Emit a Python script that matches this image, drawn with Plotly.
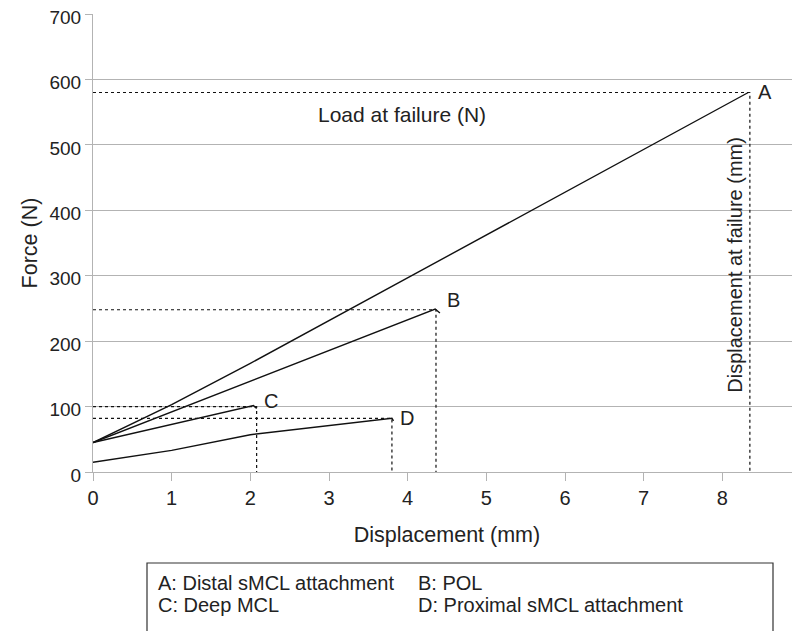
import plotly.graph_objects as go

# ---- data ----
a_x = [0, 1, 2, 8.33]
a_y = [45, 103, 166, 580]
b_x = [0, 2, 4.35, 4.41]
b_y = [45, 139, 249, 243]
c_x = [0, 2.0, 2.04, 2.08]
c_y = [45, 100.5, 101.5, 97]
d_x = [0, 1, 2, 2.7, 3.8, 3.82]
d_y = [15, 33, 57, 67, 82, 78]

fail_labels = ["A", "B", "C", "D"]
fail_x = [8.35, 4.36, 2.08, 3.80]
fail_y = [580, 248, 100, 82]
label_x = [8.43, 4.48, 2.15, 3.88]
label_y = [581, 263, 108, 82]

x_ticks = [0, 1, 2, 3, 4, 5, 6, 7, 8, 9]
y_ticks = [0, 100, 200, 300, 400, 500, 600, 700]

legend_lines = [("A: Distal sMCL attachment", "B: POL"),
                ("C: Deep MCL", "D: Proximal sMCL attachment")]

FONT = "Liberation Sans"
TXT = "#222222"
GRID = "#b3b3b3"

# page body has an 8px default margin; figure coordinates are offset by it
OFF = 8
PL, PT, PR, PB = 93, 14, 801, 472          # plot area in window pixels
L, T = PL - OFF, PT - OFF
R = 800 - (PR - OFF)
B = 631 - (PB - OFF)
PW, PH = PR - PL, PB - PT


def px(x):
    return (x - PL) / PW


def py(y):
    return (PB - y) / PH


fig = go.Figure()

for xs, ys in [(a_x, a_y), (b_x, b_y), (c_x, c_y), (d_x, d_y)]:
    fig.add_trace(go.Scatter(x=xs, y=ys, mode="lines",
                             line=dict(color="#111111", width=1.4),
                             hoverinfo="skip", showlegend=False))

for fx, fy in zip(fail_x, fail_y):
    fig.add_trace(go.Scatter(x=[0, fx, fx], y=[fy, fy, 0], mode="lines",
                             line=dict(color="#111111", width=1.2, dash="dot"),
                             hoverinfo="skip", showlegend=False))

for lab, lx, ly in zip(fail_labels, label_x, label_y):
    fig.add_annotation(x=lx, y=ly, text=lab, showarrow=False,
                       xanchor="left", yanchor="middle",
                       font=dict(family=FONT, size=20, color=TXT))

fig.add_annotation(x=3.93, y=547, text="Load at failure (N)", showarrow=False,
                   font=dict(family=FONT, size=21, color=TXT))
fig.add_annotation(x=8.15, y=317, text="Displacement at failure (mm)", showarrow=False,
                   textangle=-90, font=dict(family=FONT, size=20, color=TXT))

# legend box
fig.add_shape(type="rect", xref="paper", yref="paper",
              x0=px(147), x1=px(773), y0=py(660), y1=py(563),
              line=dict(color="#333333", width=1.2), fillcolor="rgba(0,0,0,0)")
for i, (left, right) in enumerate(legend_lines):
    ypx = 583 + i * 22
    for txt, xpx in [(left, 156), (right, 416)]:
        fig.add_annotation(xref="paper", yref="paper",
                           x=px(xpx), y=py(ypx),
                           text=txt, showarrow=False, xanchor="left", yanchor="middle",
                           font=dict(family=FONT, size=20, color=TXT))

fig.update_layout(
    width=800, height=631,
    margin=dict(l=L, r=R, t=T, b=B, autoexpand=False),
    paper_bgcolor="white", plot_bgcolor="white",
    font=dict(family=FONT, size=20, color=TXT),
    xaxis=dict(range=[0, 9], tickvals=x_ticks, showgrid=False, zeroline=False,
               automargin=False, ticklabeloverflow="allow",
               showline=True, linecolor=GRID, linewidth=1.2,
               ticks="outside", ticklen=8, tickcolor=GRID,
               title=dict(text="Displacement (mm)", standoff=18, font=dict(size=21.5)),
               tickfont=dict(size=20)),
    yaxis=dict(range=[0, 700], tickvals=y_ticks, showgrid=True, gridcolor=GRID,
               gridwidth=1.2, zeroline=False, automargin=False,
               ticklabeloverflow="allow", ticklabelshift=3,
               showline=True, linecolor=GRID, linewidth=1.2,
               ticks="outside", ticklen=7, tickcolor=GRID,
               title=dict(text="Force (N)", standoff=5, font=dict(size=21.5)),
               tickfont=dict(size=19)),
)

fig.write_html("out.html")
